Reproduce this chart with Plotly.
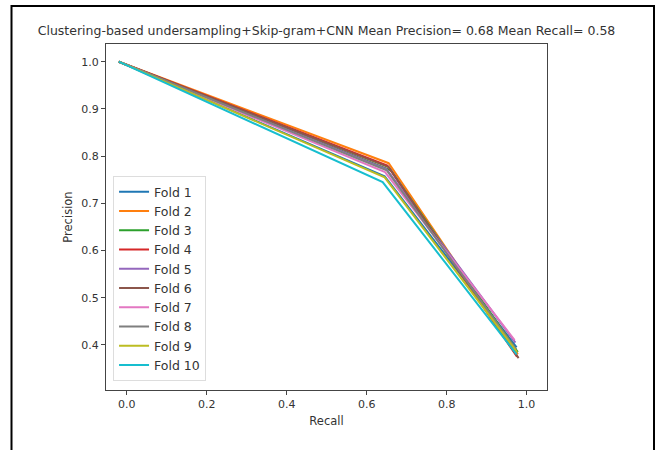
import plotly.graph_objects as go

folds = ["Fold 1", "Fold 2", "Fold 3", "Fold 4", "Fold 5",
         "Fold 6", "Fold 7", "Fold 8", "Fold 9", "Fold 10"]
colors = ["#1f77b4", "#ff7f0e", "#2ca02c", "#d62728", "#9467bd",
          "#8c564b", "#e377c2", "#7f7f7f", "#bcbd22", "#17becf"]

recall = [
    [-0.02, 0.645, 0.975],
    [-0.02, 0.655, 0.978],
    [-0.02, 0.660, 0.978],
    [-0.02, 0.652, 0.976],
    [-0.02, 0.650, 0.972],
    [-0.02, 0.656, 0.980],
    [-0.02, 0.646, 0.970],
    [-0.02, 0.650, 0.974],
    [-0.02, 0.645, 0.976],
    [-0.02, 0.640, 0.975],
]
precision = [
    [1.0, 0.757, 0.395],
    [1.0, 0.785, 0.380],
    [1.0, 0.770, 0.385],
    [1.0, 0.780, 0.375],
    [1.0, 0.772, 0.405],
    [1.0, 0.776, 0.372],
    [1.0, 0.766, 0.410],
    [1.0, 0.770, 0.390],
    [1.0, 0.755, 0.385],
    [1.0, 0.745, 0.380],
]

title = "Clustering-based undersampling+Skip-gram+CNN Mean Precision= 0.68 Mean Recall= 0.58"

fig = go.Figure()
for name, c, xs, ys in zip(folds, colors, recall, precision):
    fig.add_trace(go.Scatter(x=xs, y=ys, mode="lines", name=name,
                             line=dict(color=c, width=2)))

font = "DejaVu Sans"
axis_common = dict(showgrid=False, zeroline=False, showline=True, mirror=True,
                   linecolor="#444", linewidth=1, ticks="outside", ticklen=4,
                   tickcolor="#444", tickformat=".1f",
                   tickfont=dict(family=font, size=11, color="#333"))

fig.update_layout(
    width=660, height=450,
    margin=dict(l=106, r=113, t=44, b=60),
    paper_bgcolor="white", plot_bgcolor="white",
    title=dict(text=title, x=0.5, xref="paper", xanchor="center",
               y=1 - 31 / 450, yanchor="middle",
               font=dict(family=font, size=12.5, color="#333")),
    xaxis=dict(range=[-0.052, 1.051], dtick=0.2,
               title=dict(text="Recall", standoff=6,
                          font=dict(family=font, size=11.5, color="#333")),
               **axis_common),
    yaxis=dict(range=[0.3045, 1.0375], dtick=0.1,
               title=dict(text="Precision", standoff=6,
                          font=dict(family=font, size=11.5, color="#333")),
               **axis_common),
    legend=dict(x=0.016, y=0.618, xanchor="left", yanchor="top",
                bgcolor="white", bordercolor="#ddd", borderwidth=1,
                itemwidth=30, tracegroupgap=0,
                font=dict(family=font, size=12.5, color="#333")),
    showlegend=True,
)

fig.add_shape(type="rect", xref="paper", yref="paper",
              x0=(11.5 - 106) / 441, x1=(654 - 106) / 441,
              y0=(390 - 470) / 346, y1=(390 - 6) / 346,
              line=dict(color="black", width=2), fillcolor="rgba(0,0,0,0)",
              layer="above")

fig.write_html("out.html")
